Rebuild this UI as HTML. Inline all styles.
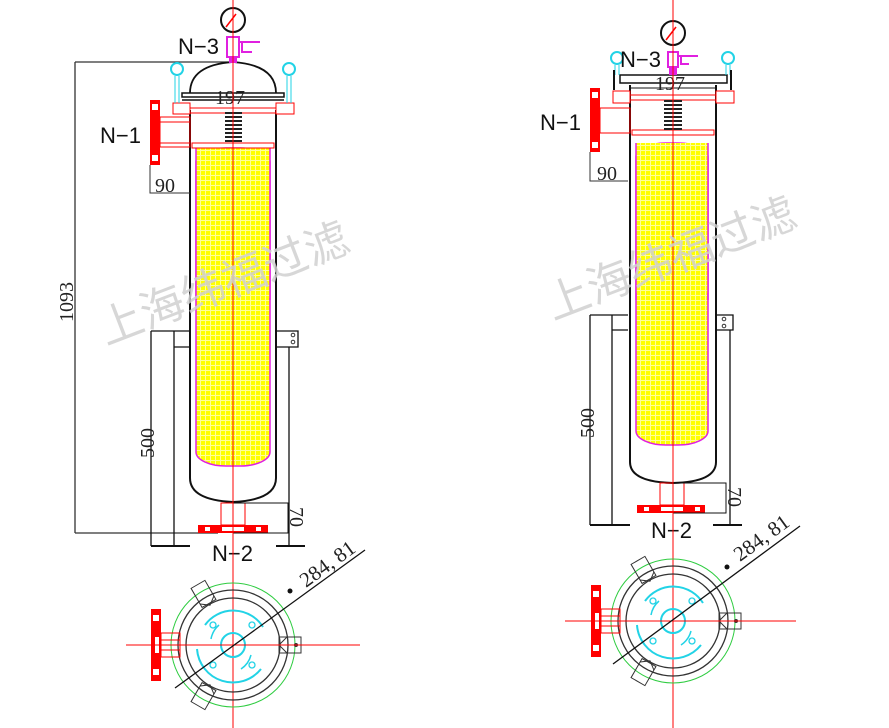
<!DOCTYPE html>
<html><head><meta charset="utf-8"><style>
html,body{margin:0;padding:0;background:#fff;}
svg{display:block;}
text{font-family:"Liberation Sans","Noto Sans CJK SC",sans-serif;}
.ser{font-family:"Liberation Serif",serif;}
</style></head><body>
<svg width="889" height="728" viewBox="0 0 889 728" xmlns="http://www.w3.org/2000/svg">
<defs>
<pattern id="mesh" width="5" height="5" patternUnits="userSpaceOnUse">
<rect width="5" height="5" fill="#ffff00"/>
<rect x="0" y="0" width="5" height="1" fill="#ffff99"/>
<rect x="0" y="0" width="1" height="5" fill="#ffff99"/>
</pattern>
<g id="plan">
<circle cx="0" cy="0" r="62" fill="none" stroke="#2ecc40" stroke-width="1"/>
<circle cx="0" cy="0" r="55" fill="none" stroke="#333" stroke-width="1.3"/>
<circle cx="0" cy="0" r="47" fill="none" stroke="#333" stroke-width="1.3"/>
<path d="M-28 -20 A35 35 0 0 1 30 -18" fill="none" stroke="#22d3e6" stroke-width="2"/>
<path d="M-36 4 A36 36 0 0 0 28 24" fill="none" stroke="#22d3e6" stroke-width="2"/>
<path d="M-22 -6 A24 24 0 0 1 -14 -20" fill="none" stroke="#22d3e6" stroke-width="1.5"/>
<path d="M18 10 A24 24 0 0 1 8 24" fill="none" stroke="#22d3e6" stroke-width="1.5"/>
<circle cx="0" cy="0" r="12" fill="none" stroke="#22d3e6" stroke-width="2"/>
<circle cx="-20" cy="-20" r="3" fill="none" stroke="#22d3e6" stroke-width="1.3"/>
<circle cx="19" cy="-20" r="3" fill="none" stroke="#22d3e6" stroke-width="1.3"/>
<circle cx="-20" cy="20" r="3" fill="none" stroke="#22d3e6" stroke-width="1.3"/>
<circle cx="19" cy="20" r="3" fill="none" stroke="#22d3e6" stroke-width="1.3"/>
<g transform="rotate(-30)"><rect x="-8" y="-70" width="16" height="22" fill="none" stroke="#333"/><path d="M-8 -52 L0 -46 L8 -52" fill="none" stroke="#333"/></g>
<g transform="rotate(210)"><rect x="-8" y="-70" width="16" height="22" fill="none" stroke="#333"/><path d="M-8 -52 L0 -46 L8 -52" fill="none" stroke="#333"/></g>
<g transform="rotate(90)"><rect x="-8" y="-68" width="16" height="22" fill="none" stroke="#333"/><path d="M-8 -54 L0 -46 L8 -54" fill="none" stroke="#333"/><circle cx="0" cy="-63" r="2" fill="#333"/></g>
<rect x="-72" y="-12" width="19" height="24" fill="none" stroke="red"/>
<line x1="-72" y1="-5" x2="-53" y2="-5" stroke="red"/>
<line x1="-72" y1="5" x2="-53" y2="5" stroke="red"/>
<rect x="-82" y="-36" width="10" height="72" fill="red"/>
<rect x="-80" y="-30" width="6" height="6" fill="#fff"/>
<rect x="-80" y="24" width="6" height="6" fill="#fff"/>
<rect x="-78" y="-8" width="4" height="16" fill="#fff"/>
</g>
</defs>

<!-- ========== LEFT ========== -->
<line x1="75" y1="62" x2="75" y2="533" stroke="#333" stroke-width="1.3"/>
<line x1="75" y1="62" x2="232" y2="62" stroke="#333" stroke-width="1.3"/>
<line x1="75" y1="533" x2="218" y2="533" stroke="#333" stroke-width="1.3"/>
<text class="ser" font-size="20" fill="#222" transform="translate(73,322) rotate(-90)">1093</text>
<path d="M151 331H189M151 331V546M174 331V546M174 347H189" fill="none" stroke="#111" stroke-width="1.3"/>
<line x1="151" y1="546" x2="190" y2="546" stroke="#111" stroke-width="2"/>
<path d="M276 331H298V347H276M289 347V546" fill="none" stroke="#111" stroke-width="1.3"/>
<circle cx="293" cy="335" r="1.8" fill="none" stroke="#333"/><circle cx="293" cy="342" r="1.8" fill="none" stroke="#333"/>
<line x1="276" y1="546" x2="305" y2="546" stroke="#111" stroke-width="2"/>
<text class="ser" font-size="20" fill="#222" transform="translate(154,458) rotate(-90)">500</text>
<path d="M190 150V478Q190 500 233 502Q276 500 276 478V150" fill="none" stroke="#111" stroke-width="2"/>
<rect x="196" y="148" width="74" height="318" rx="30" ry="14" fill="url(#mesh)" stroke="#e020e0" stroke-width="1.5"/>
<rect x="196" y="148" width="74" height="150" fill="url(#mesh)"/>
<line x1="196" y1="148" x2="196" y2="300" stroke="#e020e0" stroke-width="1.5"/>
<line x1="270" y1="148" x2="270" y2="300" stroke="#e020e0" stroke-width="1.5"/>
<path d="M190 110V150M276 110V150" stroke="#111" stroke-width="2"/>
<rect x="192" y="143" width="82" height="5" fill="none" stroke="red"/>
<rect x="190" y="108" width="86" height="5" fill="none" stroke="red"/>
<path d="M225 113h17M225 117h17M225 121h17M225 125h17M225 129h17M225 133h17M225 137h17M225 141h17" stroke="#222" stroke-width="2"/>
<rect x="173" y="103" width="17" height="11" fill="#fff" stroke="red"/>
<rect x="276" y="103" width="18" height="11" fill="#fff" stroke="red"/>
<path d="M182 93H284V97H182Z" fill="none" stroke="#111" stroke-width="1.5"/>
<path d="M182 100H284" stroke="#111" stroke-width="1.5"/>
<path d="M190 93Q190 65 233 62Q276 65 276 93" fill="none" stroke="#111" stroke-width="1.8"/>
<circle cx="177" cy="69" r="6" fill="none" stroke="#22d3e6" stroke-width="2"/>
<circle cx="289" cy="69" r="6" fill="none" stroke="#22d3e6" stroke-width="2"/>
<path d="M175 76v27M179 76v27M287 76v27M291 76v27" stroke="#22d3e6"/>
<text x="215" y="104" font-size="20" fill="#222" class="ser">197</text>
<rect x="160" y="117" width="30" height="30" fill="none" stroke="red"/>
<path d="M160 122H190M160 143H190" stroke="red"/>
<rect x="150" y="100" width="10" height="65" fill="red"/>
<rect x="152" y="104" width="6" height="6" fill="#fff"/><rect x="152" y="155" width="6" height="6" fill="#fff"/>
<text x="100" y="143" font-size="22" fill="#111">N−1</text>
<path d="M150 165V193H190" stroke="#333" fill="none"/>
<text x="155" y="192" font-size="20" fill="#222" class="ser">90</text>
<circle cx="233" cy="20" r="12" fill="#fff" stroke="#111" stroke-width="2"/>
<line x1="226" y1="27" x2="236" y2="14" stroke="red" stroke-width="1.5"/>
<rect x="227" y="37" width="12" height="20" fill="none" stroke="#e020e0" stroke-width="2"/>
<path d="M240 42h20M242 42v10h10" stroke="#e020e0" stroke-width="2" fill="none"/>
<rect x="229" y="57" width="8" height="6" fill="#e020e0"/>
<text x="178" y="54" font-size="22" fill="#111">N−3</text>
<rect x="221" y="503" width="24" height="22" fill="none" stroke="red"/>
<rect x="198" y="525" width="70" height="8" fill="red"/>
<rect x="205" y="527" width="5" height="4" fill="#fff"/><rect x="222" y="527" width="22" height="4" fill="#fff"/><rect x="256" y="527" width="5" height="4" fill="#fff"/>
<rect x="233" y="503" width="55" height="30" fill="none" stroke="#111"/>
<text class="ser" font-size="20" fill="#222" transform="translate(290,507) rotate(90)">70</text>
<text x="212" y="561" font-size="22" fill="#111">N−2</text>
<line x1="233" y1="0" x2="233" y2="728" stroke="red" stroke-width="1"/>
<use href="#plan" transform="translate(233,645)"/>
<line x1="126" y1="645" x2="360" y2="645" stroke="red"/>
<line x1="175" y1="688" x2="365" y2="550" stroke="#111" stroke-width="1.3"/>
<circle cx="290" cy="591" r="2.5" fill="#111"/>
<text class="ser" font-size="21" fill="#222" transform="translate(306,588) rotate(-36)">284, 81</text>

<!-- ========== RIGHT ========== -->
<path d="M590 315H628M590 315V525M612 315V525M612 330H628" fill="none" stroke="#111" stroke-width="1.3"/>
<line x1="590" y1="525" x2="630" y2="525" stroke="#111" stroke-width="2"/>
<path d="M715 315H733V330H715M730 330V525" fill="none" stroke="#111" stroke-width="1.3"/>
<circle cx="724" cy="319" r="1.8" fill="none" stroke="#333"/><circle cx="724" cy="326" r="1.8" fill="none" stroke="#333"/>
<line x1="713" y1="525" x2="742" y2="525" stroke="#111" stroke-width="2"/>
<text class="ser" font-size="20" fill="#222" transform="translate(594,438) rotate(-90)">500</text>
<path d="M630 140V462Q630 482 673 483Q716 482 716 462V140" fill="none" stroke="#111" stroke-width="2"/>
<rect x="636" y="143" width="72" height="302" rx="30" ry="14" fill="url(#mesh)" stroke="#e020e0" stroke-width="1.5"/>
<rect x="636" y="143" width="72" height="150" fill="url(#mesh)"/>
<line x1="636" y1="143" x2="636" y2="300" stroke="#e020e0" stroke-width="1.5"/>
<line x1="708" y1="143" x2="708" y2="300" stroke="#e020e0" stroke-width="1.5"/>
<path d="M630 85V140M716 85V140" stroke="#111" stroke-width="2"/>
<rect x="632" y="130" width="82" height="5" fill="none" stroke="red"/>
<rect x="630" y="95" width="86" height="5" fill="none" stroke="red"/>
<path d="M664 101h18M664 105h18M664 109h18M664 113h18M664 117h18M664 121h18M664 125h18M664 129h18" stroke="#222" stroke-width="2"/>
<rect x="613" y="91" width="17" height="12" fill="#fff" stroke="red"/>
<rect x="716" y="91" width="18" height="12" fill="#fff" stroke="red"/>
<path d="M620 75H727V83H620Z" fill="none" stroke="#111" stroke-width="1.5"/>
<path d="M630 88H716" stroke="#111"/>
<circle cx="617" cy="58" r="6" fill="none" stroke="#22d3e6" stroke-width="2"/>
<circle cx="728" cy="58" r="6" fill="none" stroke="#22d3e6" stroke-width="2"/>
<path d="M615 65v10M619 65v10M726 65v10M730 65v10" stroke="#22d3e6"/>
<path d="M614 70v20M731 70v20" stroke="#111" stroke-width="2"/>
<text x="655" y="90" font-size="20" fill="#222" class="ser">197</text>
<rect x="600" y="108" width="30" height="25" fill="none" stroke="red"/>
<rect x="590" y="88" width="10" height="64" fill="red"/>
<rect x="592" y="92" width="6" height="6" fill="#fff"/><rect x="592" y="142" width="6" height="6" fill="#fff"/>
<text x="540" y="130" font-size="22" fill="#111">N−1</text>
<path d="M590 152V181H628" stroke="#333" fill="none"/>
<text x="597" y="180" font-size="20" fill="#222" class="ser">90</text>
<circle cx="673" cy="33" r="12" fill="#fff" stroke="#111" stroke-width="2"/>
<line x1="666" y1="40" x2="676" y2="27" stroke="red" stroke-width="1.5"/>
<rect x="668" y="52" width="10" height="15" fill="none" stroke="#e020e0" stroke-width="2"/>
<path d="M678 56h20M681 56v8h8" stroke="#e020e0" stroke-width="2" fill="none"/>
<rect x="669" y="67" width="8" height="8" fill="#e020e0"/>
<text x="620" y="67" font-size="22" fill="#111">N−3</text>
<rect x="660" y="483" width="24" height="22" fill="none" stroke="red"/>
<rect x="637" y="505" width="68" height="8" fill="red"/>
<rect x="644" y="507" width="5" height="4" fill="#fff"/><rect x="661" y="507" width="22" height="4" fill="#fff"/><rect x="695" y="507" width="5" height="4" fill="#fff"/>
<rect x="673" y="483" width="53" height="30" fill="none" stroke="#111"/>
<text class="ser" font-size="20" fill="#222" transform="translate(728,487) rotate(90)">70</text>
<text x="651" y="538" font-size="22" fill="#111">N−2</text>
<line x1="673" y1="0" x2="673" y2="728" stroke="red"/>
<use href="#plan" transform="translate(673,621)"/>
<line x1="565" y1="621" x2="796" y2="621" stroke="red"/>
<line x1="613" y1="664" x2="800" y2="526" stroke="#111" stroke-width="1.3"/>
<circle cx="727" cy="567" r="2.5" fill="#111"/>
<text class="ser" font-size="21" fill="#222" transform="translate(740,562) rotate(-36)">284, 81</text>

<text x="0" y="0" font-size="44" fill="#d0d0d0" fill-opacity="0.85" transform="translate(106,345) rotate(-21)">上海纬福过滤</text>
<text x="0" y="0" font-size="44" fill="#d0d0d0" fill-opacity="0.85" transform="translate(553,320) rotate(-21)">上海纬福过滤</text>
</svg>
</body></html>
